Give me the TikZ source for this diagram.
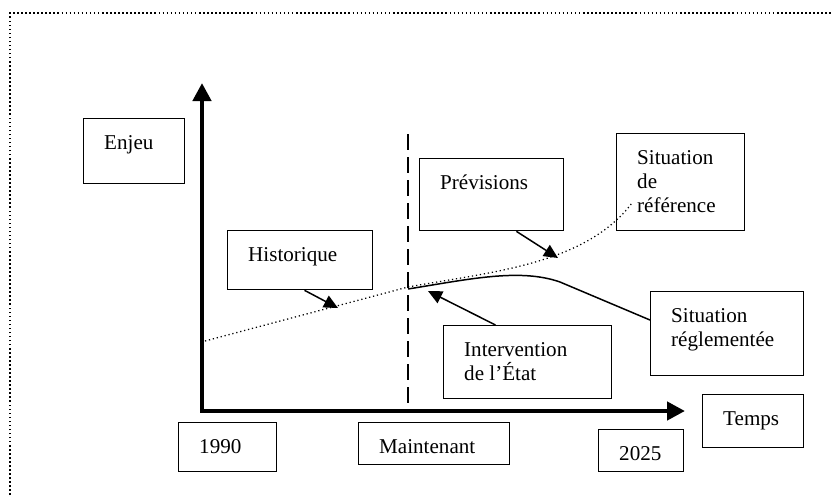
\documentclass[tikz,border=0pt]{standalone}
\usepackage{fontspec}
\setmainfont{Liberation Serif}
\usetikzlibrary{arrows.meta,calc}
\newlength\px
\setlength\px{0.2mm}
\newcommand{\boxtext}[3]{\parbox[t][\dimexpr#2\px-12pt\relax][t]{\dimexpr#1\px-23.4pt\relax}{\raggedright\rule{0pt}{11.65pt}#3}}
\tikzset{
  every node/.style={font=\fontsize{12}{13.5}\selectfont},
  tbox/.style={draw,line width=0.75pt,anchor=north west,inner xsep=11.7pt,inner ysep=6pt},
  axis/.style={line width=2.5pt,line join=miter,{Triangle[length=3.6mm,width=3.6mm]}-{Triangle[length=3.6mm,width=3.6mm]}},
  nowline/.style={line width=1.1pt,dash pattern=on 3.2mm off 1.4mm},
  pointer/.style={line width=0.85pt,-{Triangle[length=2.8mm,width=2.6mm]}},
  refcurve/.style={line width=0.7pt,dash pattern=on 0.7pt off 1.6pt},
  regcurve/.style={line width=0.85pt},
  frame/.style={line width=0.9pt,dash pattern=on 0.9pt off 1.4pt},
}

\begin{document}
\begin{tikzpicture}[x=0.2mm,y=-0.2mm]
  \useasboundingbox (0,0) rectangle (832,495);
  \draw[frame] (10,495) -- (10,13) -- (832,13);

  % axes
  \coordinate (origin) at (202,411);
  \coordinate (ytop) at (202,83);
  \coordinate (xend) at (685,411);
  \coordinate (now-top) at (408,134);
  \coordinate (now-bot) at (408,411);
  \draw[axis] (ytop) -- (origin) -- (xend);
  \draw[nowline] (now-top) -- (now-bot);

  % boxes
  \node[tbox] (enjeu) at (83,118) {\boxtext{101}{65}{Enjeu}};
  \node[tbox] (hist) at (227,230) {\boxtext{145}{59}{Historique}};
  \node[tbox] (prev) at (419,158) {\boxtext{144}{72}{Prévisions}};
  \node[tbox] (sitref) at (616,133) {\boxtext{128}{97}{Situation\\de\\référence}};
  \node[tbox] (sitreg) at (650,291) {\boxtext{153}{84}{Situation\\réglementée}};
  \node[tbox] (interv) at (443,325) {\boxtext{168}{73}{Intervention\\de l’État}};
  \node[tbox] (temps) at (702,394) {\boxtext{101}{53}{Temps}};
  \node[tbox] (y1990) at (178,422) {\boxtext{98}{49}{1990}};
  \node[tbox] (maint) at (358,422) {\boxtext{151}{42}{Maintenant}};
  \node[tbox] (y2025) at (598,429) {\boxtext{85}{42}{2025}};

  % curves
  \coordinate (ref-start) at (205,341);
  \coordinate (ref-now) at (408,287);
  \coordinate (ref-end) at (632,203);
  \coordinate (reg-start) at (408,289);
  \draw[refcurve] (ref-start) -- (ref-now) .. controls (490,272) and (585,265) .. (ref-end);
  \draw[regcurve] (reg-start) .. controls (470,279) and (520,268) .. (560,282)
    -- ($(sitreg.north west)!0.34!(sitreg.south west)$);

  % pointers
  \coordinate (hist-tip) at (338,308);
  \coordinate (prev-tip) at (558,258);
  \coordinate (interv-tip) at (428,291);
  \draw[pointer] ($(hist.south west)!0.53!(hist.south east)$) -- (hist-tip);
  \draw[pointer] ($(prev.south west)!0.67!(prev.south east)$) -- (prev-tip);
  \draw[pointer] ($(interv.north west)!0.31!(interv.north east)$) -- (interv-tip);
\end{tikzpicture}
\end{document}
